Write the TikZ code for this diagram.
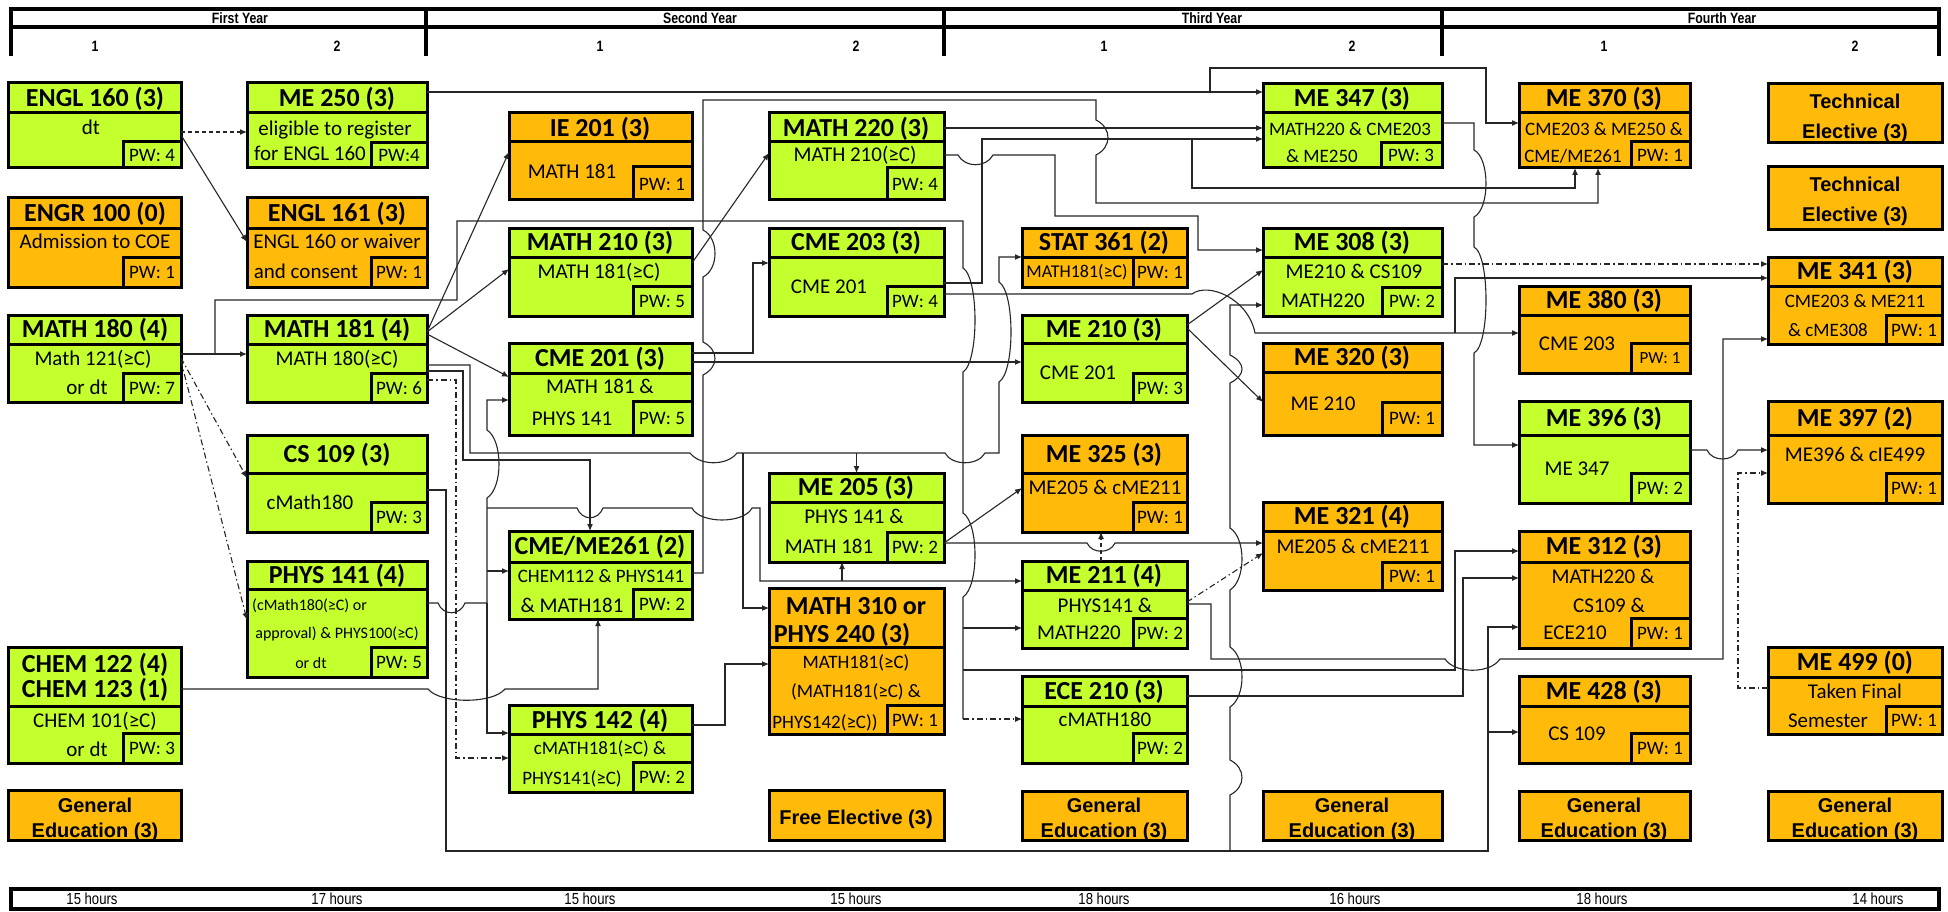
\documentclass[tikz,border=0pt]{standalone}
\usepackage{fontspec}
\setmainfont{Carlito}
\newfontfamily\arialf{Liberation Sans}
\newfontfamily\narrowf[FakeStretch=0.82]{Liberation Sans}
\usetikzlibrary{arrows.meta,fit}
\definecolor{grn}{RGB}{196,255,46}
\definecolor{org}{RGB}{255,186,10}
\tikzset{
  bx/.style={line width=3pt, draw=black},
  hdl/.style={line width=4pt, draw=black},
  ln/.style={line width=1.1pt, draw=black!85},
  conn/.style={ln, -{Latex[length=7pt,width=6pt]}},
  dd/.style={dash pattern=on 6pt off 3pt on 1.5pt off 3pt},
  dsh/.style={dash pattern=on 4pt off 3pt},
  ttl/.style={font=\bfseries\fontsize{26}{28}\selectfont, inner sep=0pt, text height=17pt, text depth=0pt},
  bd/.style={font=\fontsize{21}{24}\selectfont, inner sep=0pt, text height=13.5pt, text depth=0pt},
  bds/.style={font=\fontsize{19}{22}\selectfont, inner sep=0pt, text height=12.2pt, text depth=0pt},
  ps/.style={font=\fontsize{16}{18}\selectfont, inner sep=0pt, text height=10.3pt, text depth=0pt},
  pw/.style={font=\fontsize{19}{22}\selectfont, inner sep=0pt, text height=12.2pt, text depth=0pt},
  ge/.style={font=\arialf\bfseries\fontsize{20}{24}\selectfont, inner sep=0pt, text height=14.3pt, text depth=0pt},
  hdr/.style={font=\narrowf\bfseries\fontsize{15}{17}\selectfont, inner sep=0pt, text height=10.7pt, text depth=0pt},
  hrs/.style={font=\narrowf\fontsize{16}{18}\selectfont, inner sep=0pt, text height=11.4pt, text depth=0pt},
}
% name, fill, x1, y1, x2, y2, title line y, pw x, pw y
\newcommand{\crs}[9]{%
  \filldraw[fill=#2, bx] (#3,#4) rectangle (#5,#6);
  \draw[bx] (#3,#7) -- (#5,#7);
  \draw[bx] (#8,#6) |- (#5,#9);
  \node[fit={(#3,#4) (#5,#6)}, inner sep=0pt, outer sep=0pt] (#1) {};
}
\newcommand{\plainbox}[6]{%
  \filldraw[fill=#2, bx] (#3,#4) rectangle (#5,#6);
  \node[fit={(#3,#4) (#5,#6)}, inner sep=0pt, outer sep=0pt] (#1) {};
}
\begin{document}
\begin{tikzpicture}[x=1pt,y=-1pt]
\useasboundingbox (0,0) rectangle (1948,912);
% ---------- header ----------
\draw[hdl] (11,56) -- (11,9) -- (1939,9) -- (1939,56);
\draw[hdl] (11,27) -- (1939,27);
\draw[hdl] (426,9) -- (426,56);
\draw[hdl] (944,9) -- (944,56);
\draw[hdl] (1442,9) -- (1442,56);
\node[hdr] (y1) at (240,18) {First Year};
\node[hdr] (y2) at (700,18) {Second Year};
\node[hdr] (y3) at (1212,18) {Third Year};
\node[hdr] (y4) at (1722,18) {Fourth Year};
\node[hdr] (s11) at (95,46) {1};
\node[hdr] (s12) at (337,46) {2};
\node[hdr] (s21) at (600,46) {1};
\node[hdr] (s22) at (856,46) {2};
\node[hdr] (s31) at (1104,46) {1};
\node[hdr] (s32) at (1352,46) {2};
\node[hdr] (s41) at (1604,46) {1};
\node[hdr] (s42) at (1855,46) {2};
% ---------- footer ----------
\draw[hdl] (11,889) rectangle (1939,909);
\node[hrs] (h1) at (92,899) {15 hours};
\node[hrs] (h2) at (337,899) {17 hours};
\node[hrs] (h3) at (590,899) {15 hours};
\node[hrs] (h4) at (856,899) {15 hours};
\node[hrs] (h5) at (1104,899) {18 hours};
\node[hrs] (h6) at (1355,899) {16 hours};
\node[hrs] (h7) at (1602,899) {18 hours};
\node[hrs] (h8) at (1878,899) {14 hours};
% ---------- boxes ----------
\crs{engl160}{grn}{8}{83}{181}{168}{113}{123}{142}
\crs{me250}{grn}{247}{83}{427}{168}{113}{371}{143}
\crs{engr100}{org}{8}{198}{181}{287}{228}{123}{257}
\crs{engl161}{org}{247}{198}{427}{287}{228}{371}{257}
\crs{math180}{grn}{8}{315}{181}{402}{344}{123}{373}
\crs{math181}{grn}{247}{315}{427}{402}{344}{371}{373}
\crs{cs109}{grn}{247}{435}{427}{532}{473}{371}{502}
\crs{phys141}{grn}{247}{561}{427}{677}{589}{371}{647}
\crs{chem122}{grn}{8}{647}{181}{763}{706}{123}{733}
\plainbox{ge1}{org}{8}{790}{181}{840}
\crs{ie201}{org}{509}{113}{692}{200}{142}{633}{167}
\crs{math210}{grn}{509}{228}{692}{316}{257}{633}{286}
\crs{cme201}{grn}{509}{343}{692}{435}{373}{633}{401}
\crs{cme261}{grn}{509}{531}{692}{619}{562}{633}{589}
\crs{phys142}{grn}{509}{705}{692}{792}{734}{633}{762}
\crs{math220}{grn}{769}{113}{944}{200}{142}{887}{168}
\crs{cme203}{grn}{769}{228}{944}{316}{257}{887}{286}
\crs{me205}{grn}{769}{473}{944}{562}{502}{887}{532}
\crs{math310}{org}{769}{588}{944}{734}{647}{887}{705}
\plainbox{free}{org}{769}{790}{944}{840}
\crs{stat361}{org}{1022}{228}{1187}{287}{257}{1133}{257}
\crs{me210}{grn}{1022}{315}{1187}{402}{343}{1133}{373}
\crs{me325}{org}{1022}{435}{1187}{532}{473}{1133}{502}
\crs{me211}{grn}{1022}{561}{1187}{648}{590}{1133}{618}
\crs{ece210}{grn}{1022}{676}{1187}{763}{706}{1133}{733}
\plainbox{ge3}{org}{1022}{791}{1187}{840}
\crs{me347}{grn}{1263}{84}{1442}{168}{113}{1381}{143}
\crs{me308}{grn}{1263}{228}{1442}{316}{257}{1382}{287}
\crs{me320}{org}{1263}{343}{1442}{435}{372}{1382}{402}
\crs{me321}{org}{1263}{502}{1442}{590}{531}{1382}{562}
\plainbox{ge4}{org}{1263}{791}{1442}{840}
\crs{me370}{org}{1519}{84}{1690}{168}{113}{1631}{142}
\crs{me380}{org}{1519}{286}{1690}{373}{315}{1631}{343}
\crs{me396}{grn}{1519}{401}{1690}{503}{435}{1631}{473}
\crs{me312}{org}{1519}{531}{1690}{648}{562}{1631}{618}
\crs{me428}{org}{1519}{676}{1690}{763}{706}{1631}{733}
\plainbox{ge5}{org}{1519}{791}{1690}{840}
\plainbox{te1}{org}{1768}{84}{1942}{143}
\plainbox{te2}{org}{1768}{167}{1942}{229}
\crs{me341}{org}{1768}{257}{1942}{344}{286}{1886}{315}
\crs{me397}{org}{1768}{401}{1942}{503}{435}{1886}{473}
\crs{me499}{org}{1768}{647}{1942}{734}{677}{1886}{706}
\plainbox{ge6}{org}{1768}{791}{1942}{840}
% ---------- texts ----------
\node[ttl] (engl160t) at (95,98) {ENGL 160 (3)};
\node[bd] (engl160b) at (91,128) {dt};
\node[pw] (engl160p) at (152,155) {PW: 4};
\node[ttl] (me250t) at (337,98) {ME 250 (3)};
\node[bd] (me250b1) at (335,129) {eligible to register};
\node[bd] (me250b2) at (310,154) {for ENGL 160};
\node[pw] (me250p) at (399,155) {PW:4};
\node[ttl] (engr100t) at (95,213) {ENGR 100 (0)};
\node[bd] (engr100b) at (95,242) {Admission to COE};
\node[pw] (engr100p) at (152,272) {PW: 1};
\node[ttl] (engl161t) at (337,213) {ENGL 161 (3)};
\node[bd] (engl161b1) at (337,242) {ENGL 160 or waiver};
\node[bd] (engl161b2) at (306,272) {and consent};
\node[pw] (engl161p) at (399,272) {PW: 1};
\node[ttl] (math180t) at (95,329) {MATH 180 (4)};
\node[bd] (math180b1) at (93,359) {Math 121(≥C)};
\node[bd] (math180b2) at (87,388) {or dt};
\node[pw] (math180p) at (152,388) {PW: 7};
\node[ttl] (math181t) at (337,329) {MATH 181 (4)};
\node[bd] (math181b) at (337,359) {MATH 180(≥C)};
\node[pw] (math181p) at (399,388) {PW: 6};
\node[ttl] (cs109t) at (337,454) {CS 109 (3)};
\node[bd] (cs109b) at (310,503) {cMath180};
\node[pw] (cs109p) at (399,517) {PW: 3};
\node[ttl] (phys141t) at (337,575) {PHYS 141 (4)};
\node[ps, anchor=west] (phys141b1) at (252,605) {(cMath180(≥C) or};
\node[ps] (phys141b2) at (337,633) {approval) \& PHYS100(≥C)};
\node[ps] (phys141b3) at (311,663) {or dt};
\node[pw] (phys141p) at (399,662) {PW: 5};
\node[ttl] (chem122t1) at (95,664) {CHEM 122 (4)};
\node[ttl] (chem122t2) at (95,689) {CHEM 123 (1)};
\node[bd] (chem122b1) at (95,721) {CHEM 101(≥C)};
\node[bd] (chem122b2) at (87,750) {or dt};
\node[pw] (chem122p) at (152,748) {PW: 3};
\node[ge] (ge1a) at (95,805) {General};
\node[ge] (ge1b) at (95,830) {Education (3)};
\node[ttl] (ie201t) at (600,128) {IE 201 (3)};
\node[bd] (ie201b) at (572,172) {MATH 181};
\node[pw] (ie201p) at (662,184) {PW: 1};
\node[ttl] (math210t) at (600,242) {MATH 210 (3)};
\node[bd] (math210b) at (599,272) {MATH 181(≥C)};
\node[pw] (math210p) at (662,301) {PW: 5};
\node[ttl] (cme201t) at (600,358) {CME 201 (3)};
\node[bd] (cme201b1) at (600,387) {MATH 181 \&};
\node[bd] (cme201b2) at (572,419) {PHYS 141};
\node[pw] (cme201p) at (662,418) {PW: 5};
\node[ttl] (cme261t) at (600,546) {CME/ME261 (2)};
\node[bds] (cme261b1) at (601,576) {CHEM112 \& PHYS141};
\node[bd] (cme261b2) at (572,606) {\& MATH181};
\node[pw] (cme261p) at (662,604) {PW: 2};
\node[ttl] (phys142t) at (600,720) {PHYS 142 (4)};
\node[bds] (phys142b1) at (600,748) {cMATH181(≥C) \&};
\node[bds] (phys142b2) at (572,778) {PHYS141(≥C)};
\node[pw] (phys142p) at (662,777) {PW: 2};
\node[ttl] (math220t) at (856,128) {MATH 220 (3)};
\node[bd] (math220b) at (855,155) {MATH 210(≥C)};
\node[pw] (math220p) at (915,184) {PW: 4};
\node[ttl] (cme203t) at (856,242) {CME 203 (3)};
\node[bd] (cme203b) at (829,287) {CME 201};
\node[pw] (cme203p) at (915,301) {PW: 4};
\node[ttl] (me205t) at (856,487) {ME 205 (3)};
\node[bd] (me205b1) at (854,517) {PHYS 141 \&};
\node[bd] (me205b2) at (829,547) {MATH 181};
\node[pw] (me205p) at (915,547) {PW: 2};
\node[ttl] (math310t1) at (856,606) {MATH 310 or};
\node[ttl] (math310t2) at (842,634) {PHYS 240 (3)};
\node[bds] (math310b1) at (856,662) {MATH181(≥C)};
\node[bds] (math310b2) at (856,691) {(MATH181(≥C) \&};
\node[bds] (math310b3) at (825,722) {PHYS142(≥C))};
\node[pw] (math310p) at (915,720) {PW: 1};
\node[ge] (freet) at (856,817) {Free Elective (3)};
\node[ttl] (stat361t) at (1104,242) {STAT 361 (2)};
\node[font=\fontsize{18}{20}\selectfont, inner sep=0pt, text height=11.6pt, text depth=0pt] (stat361b) at (1077,272) {MATH181(≥C)};
\node[pw] (stat361p) at (1160,272) {PW: 1};
\node[ttl] (me210t) at (1104,329) {ME 210 (3)};
\node[bd] (me210b) at (1078,373) {CME 201};
\node[pw] (me210p) at (1160,388) {PW: 3};
\node[ttl] (me325t) at (1104,454) {ME 325 (3)};
\node[bd] (me325b) at (1105,488) {ME205 \& cME211};
\node[pw] (me325p) at (1160,517) {PW: 1};
\node[ttl] (me211t) at (1104,575) {ME 211 (4)};
\node[bd] (me211b1) at (1105,606) {PHYS141 \&};
\node[bd] (me211b2) at (1079,633) {MATH220};
\node[pw] (me211p) at (1160,633) {PW: 2};
\node[ttl] (ece210t) at (1104,691) {ECE 210 (3)};
\node[bd] (ece210b) at (1105,720) {cMATH180};
\node[pw] (ece210p) at (1160,748) {PW: 2};
\node[ge] (ge3a) at (1104,805) {General};
\node[ge] (ge3b) at (1104,830) {Education (3)};
\node[ttl] (me347t) at (1352,98) {ME 347 (3)};
\node[bds] (me347b1) at (1350,129) {MATH220 \& CME203};
\node[bds] (me347b2) at (1322,156) {\& ME250};
\node[pw] (me347p) at (1411,155) {PW: 3};
\node[ttl] (me308t) at (1352,242) {ME 308 (3)};
\node[bd] (me308b1) at (1354,272) {ME210 \& CS109};
\node[bd] (me308b2) at (1323,301) {MATH220};
\node[pw] (me308p) at (1412,301) {PW: 2};
\node[ttl] (me320t) at (1352,357) {ME 320 (3)};
\node[bd] (me320b) at (1323,404) {ME 210};
\node[pw] (me320p) at (1412,418) {PW: 1};
\node[ttl] (me321t) at (1352,516) {ME 321 (4)};
\node[bd] (me321b) at (1353,547) {ME205 \& cME211};
\node[pw] (me321p) at (1412,576) {PW: 1};
\node[ge] (ge4a) at (1352,805) {General};
\node[ge] (ge4b) at (1352,830) {Education (3)};
\node[ttl] (me370t) at (1604,98) {ME 370 (3)};
\node[bds] (me370b1) at (1604,129) {CME203 \& ME250 \&};
\node[bds] (me370b2) at (1573,156) {CME/ME261};
\node[pw] (me370p) at (1660,155) {PW: 1};
\node[ttl] (me380t) at (1604,300) {ME 380 (3)};
\node[bd] (me380b) at (1577,344) {CME 203};
\node[font=\fontsize{17}{19}\selectfont, inner sep=0pt, text height=11pt, text depth=0pt] (me380p) at (1660,358) {PW: 1};
\node[ttl] (me396t) at (1604,418) {ME 396 (3)};
\node[bd] (me396b) at (1577,469) {ME 347};
\node[pw] (me396p) at (1660,488) {PW: 2};
\node[ttl] (me312t) at (1604,546) {ME 312 (3)};
\node[bd] (me312b1) at (1603,577) {MATH220 \&};
\node[bd] (me312b2) at (1609,606) {CS109 \&};
\node[bd] (me312b3) at (1575,633) {ECE210};
\node[pw] (me312p) at (1660,633) {PW: 1};
\node[ttl] (me428t) at (1604,691) {ME 428 (3)};
\node[bd] (me428b) at (1577,734) {CS 109};
\node[pw] (me428p) at (1660,748) {PW: 1};
\node[ge] (ge5a) at (1604,805) {General};
\node[ge] (ge5b) at (1604,830) {Education (3)};
\node[ge] (te1a) at (1855,101) {Technical};
\node[ge] (te1b) at (1855,131) {Elective (3)};
\node[ge] (te2a) at (1855,184) {Technical};
\node[ge] (te2b) at (1855,214) {Elective (3)};
\node[ttl] (me341t) at (1855,271) {ME 341 (3)};
\node[bds] (me341b1) at (1855,301) {CME203 \& ME211};
\node[bds] (me341b2) at (1828,330) {\& cME308};
\node[pw] (me341p) at (1914,330) {PW: 1};
\node[ttl] (me397t) at (1855,418) {ME 397 (2)};
\node[bd] (me397b) at (1855,455) {ME396 \& cIE499};
\node[pw] (me397p) at (1914,488) {PW: 1};
\node[ttl] (me499t) at (1855,662) {ME 499 (0)};
\node[bd] (me499b1) at (1855,692) {Taken Final};
\node[bd] (me499b2) at (1828,721) {Semester};
\node[pw] (me499p) at (1914,720) {PW: 1};
\node[ge] (ge6a) at (1855,805) {General};
\node[ge] (ge6b) at (1855,830) {Education (3)};
% ---------- connectors ----------
\draw[conn,dsh] (engl160.east|-0,132) -- (me250.west|-0,132);
\draw[conn] (engl160.east|-0,135) -- (engl161.west|-0,242);
\draw[conn] (me250.east|-0,92) -- (me347.west|-0,92);
\draw[conn] (me250.east|-0,92) -- (1210,92) -- (1210,68) -- (1486,68) -- (1486,123) -- (me370.west|-0,123);
\draw[conn] (math180.east|-0,354) -- (math181.west|-0,354);
\draw[ln] (math180.east|-0,354) -- (215,354) -- (215,300) -- (457,300) -- (457,221) -- (963,221) -- (963,268)
  .. controls (979,278) and (979,362) .. (963,372) -- (963,513)
  .. controls (979,523) and (979,587) .. (963,597) -- (963,719);
\draw[conn,dd] (963,719) -- (ece210.west|-0,719);
\draw[conn] (963,628) -- (me211.west|-0,628);
\draw[conn] (963,670) -- (1455,670) -- (1455,551) -- (me312.west|-0,551);
\draw[conn,dd] (math180.east|-0,358) -- (cs109.west|-0,478);
\draw[conn,dd] (math180.east|-0,361) -- (phys141.west|-0,620);
\draw[conn] (math181.east|-0,332) -- (ie201.west|-0,152);
\draw[conn] (math181.east|-0,332) -- (math210.west|-0,269);
\draw[conn] (math181.east|-0,334) -- (cme201.west|-0,377);
\draw[conn] (math181.east|-0,365) -- (470,365) -- (470,453) -- (690,453)
  .. controls (700,466) and (727,466) .. (737,453) -- (945,453)
  .. controls (952,466) and (978,466) .. (985,453) -- (999,453) -- (999,382)
  .. controls (1015,372) and (1015,292) .. (999,282) -- (999,257) -- (stat361.west|-0,257);
\draw[conn] (me205.north|-0,453) -- (me205.north);
\draw[conn] (743,453) -- (743,608) -- (math310.west|-0,608);
\draw[conn] (math181.east|-0,371) -- (463,371) -- (463,460) -- (590,460) -- (590,0|-cme261.north);
\draw[conn,dd] (math181.east|-0,380) -- (456,380) -- (456,758) -- (phys142.west|-0,758);
\draw[conn] (cs109.east|-0,490) -- (446,490) -- (446,851) -- (1488,851) -- (1488,627) -- (me312.west|-0,627);
\draw[conn] (1488,732) -- (me428.west|-0,732);
\draw[conn] (1230,851) -- (1230,795) .. controls (1246,787) and (1246,768) .. (1230,760) -- (1230,707)
  .. controls (1246,697) and (1246,657) .. (1230,647) -- (1230,590)
  .. controls (1246,580) and (1246,538) .. (1230,528) -- (1230,383)
  .. controls (1246,375) and (1246,363) .. (1230,355) -- (1230,305) -- (me308.west|-0,305);
\draw[ln] (phys141.east|-0,603) -- (438,603) .. controls (443,616) and (460,616) .. (465,603) -- (487,603);
\draw[conn] (487,603) -- (487,498) .. controls (503,488) and (503,440) .. (487,430) -- (487,400) -- (cme201.west|-0,400);
\draw[conn] (487,603) -- (487,733) -- (phys142.west|-0,733);
\draw[conn] (487,571) -- (cme261.west|-0,571);
\draw[conn] (487,508) -- (577,508) .. controls (582,521) and (598,521) .. (603,508) -- (692,508)
  .. controls (700,524) and (744,524) .. (752,508) -- (760,508) -- (760,581) -- (me211.west|-0,581);
\draw[conn] (842,581) -- (842,0|-me205.south);
\draw[conn] (chem122.east|-0,689) -- (428,689) .. controls (440,704) and (493,704) .. (505,689) -- (598,689) -- (598,0|-cme261.south);
\draw[conn] (cme201.east|-0,353) -- (753,353) -- (753,263) -- (cme203.west|-0,263);
\draw[conn] (cme201.east|-0,362) -- (me210.west|-0,362);
\draw[conn] (math210.east|-0,263) -- (math220.west|-0,153);
\draw[conn] (math220.east|-0,128) -- (me347.west|-0,128);
\draw[conn] (math220.east|-0,155) -- (958,155) .. controls (965,168) and (986,168) .. (993,155) -- (1055,155) -- (1055,216) -- (1198,216) -- (1198,250) -- (me308.west|-0,250);
\draw[conn] (cme203.east|-0,283) -- (982,283) -- (982,139) -- (me347.west|-0,139);
\draw[conn] (1192,139) -- (1192,188) -- (1575,188) -- (1575,0|-me370.south);
\draw[conn] (cme203.east|-0,294) -- (1192,294) .. controls (1208,282) and (1248,298) .. (1255,333) -- (me380.west|-0,333);
\draw[conn] (1455,333) -- (1455,278) -- (me341.west|-0,278);
\draw[conn] (cme261.east|-0,573) -- (703,573) -- (703,375) .. controls (719,367) and (719,350) .. (703,342) -- (703,277)
  .. controls (719,269) and (719,238) .. (703,230) -- (703,100) -- (1096,100) -- (1096,120)
  .. controls (1112,128) and (1112,147) .. (1096,155) -- (1096,203) -- (1598,203) -- (1598,0|-me370.south);
\draw[conn] (phys142.east|-0,725) -- (725,725) -- (725,664) -- (math310.west|-0,664);
\draw[conn] (me205.east|-0,543) -- (me325.west|-0,488);
\draw[conn] (me205.east|-0,543) -- (1087,543) .. controls (1092,554) and (1110,554) .. (1115,543) -- (me321.west|-0,543);
\draw[conn,dsh] (1101,0|-me211.north) -- (1101,0|-me325.south);
\draw[conn,dd] (me211.east|-0,602) -- (me321.west|-0,553);
\draw[conn] (me211.east|-0,604) -- (1211,604) -- (1211,659) -- (1445,659) .. controls (1455,674) and (1490,674) .. (1500,659) -- (1723,659) -- (1723,339) -- (me341.west|-0,339);
\draw[conn] (ece210.east|-0,696) -- (1463,696) -- (1463,578) -- (me312.west|-0,578);
\draw[conn] (me210.east|-0,325) -- (me308.west|-0,270);
\draw[conn] (me210.east|-0,328) -- (me320.west|-0,402);
\draw[conn,dd] (me308.east|-0,264) -- (me341.west|-0,264);
\draw[conn] (me347.east|-0,123) -- (1474,123) -- (1474,150) .. controls (1490,158) and (1490,209) .. (1474,217) -- (1474,247)
  .. controls (1490,255) and (1490,345) .. (1474,353) -- (1474,445) -- (me396.west|-0,445);
\draw[conn] (me396.east|-0,450) -- (1707,450) .. controls (1712,462) and (1733,462) .. (1738,450) -- (me397.west|-0,450);
\draw[conn,dd] (me499.west|-0,688) -- (1738,688) -- (1738,473) -- (me397.west|-0,473);
\end{tikzpicture}
\end{document}
